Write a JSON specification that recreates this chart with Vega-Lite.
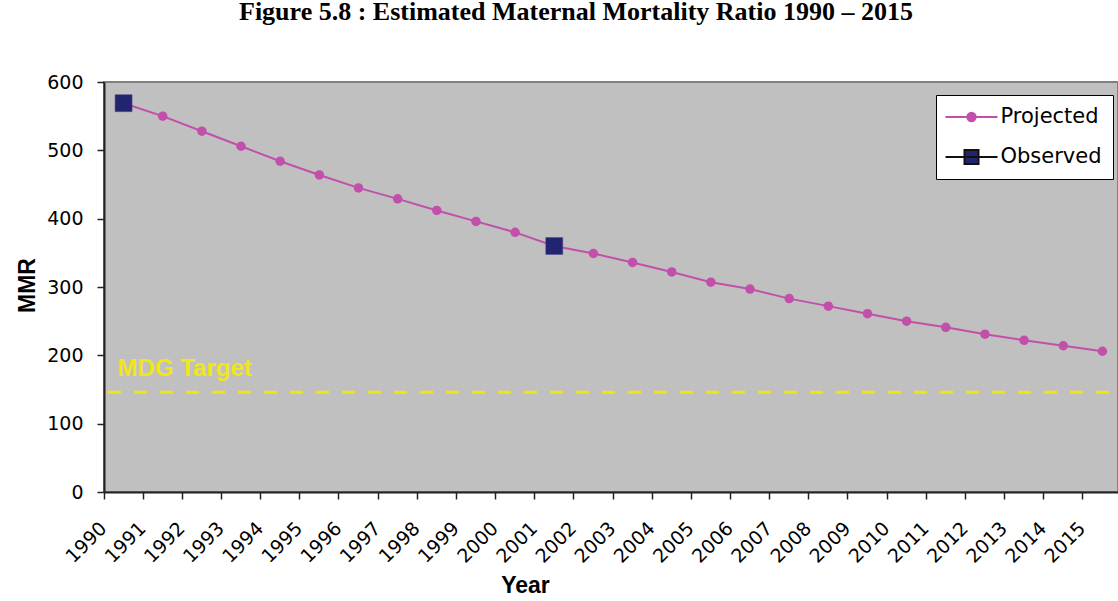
{
  "$schema": "https://vega.github.io/schema/vega-lite/v6.json",
  "width": 1014,
  "height": 410,
  "autosize": {"type": "none"},
  "padding": {"left": 104, "top": 82, "right": 0, "bottom": 109},
  "background": "white",
  "title": {
    "text": "Figure 5.8 : Estimated Maternal Mortality Ratio 1990 – 2015",
    "font": "Liberation Serif",
    "fontSize": 26,
    "fontWeight": "bold",
    "color": "black",
    "anchor": "middle",
    "frame": "group",
    "dx": -35,
    "dy": 31,
    "offset": 58,
    "baseline": "alphabetic"
  },
  "datasets": {
    "mmr": [
      {"year": "1990", "mmr": 569, "series": "Projected"},
      {"year": "1991", "mmr": 550, "series": "Projected"},
      {"year": "1992", "mmr": 528, "series": "Projected"},
      {"year": "1993", "mmr": 506, "series": "Projected"},
      {"year": "1994", "mmr": 484, "series": "Projected"},
      {"year": "1995", "mmr": 464, "series": "Projected"},
      {"year": "1996", "mmr": 445, "series": "Projected"},
      {"year": "1997", "mmr": 429, "series": "Projected"},
      {"year": "1998", "mmr": 412, "series": "Projected"},
      {"year": "1999", "mmr": 396, "series": "Projected"},
      {"year": "2000", "mmr": 380, "series": "Projected"},
      {"year": "2001", "mmr": 360, "series": "Projected"},
      {"year": "2002", "mmr": 349, "series": "Projected"},
      {"year": "2003", "mmr": 336, "series": "Projected"},
      {"year": "2004", "mmr": 322, "series": "Projected"},
      {"year": "2005", "mmr": 307, "series": "Projected"},
      {"year": "2006", "mmr": 297, "series": "Projected"},
      {"year": "2007", "mmr": 283, "series": "Projected"},
      {"year": "2008", "mmr": 272, "series": "Projected"},
      {"year": "2009", "mmr": 261, "series": "Projected"},
      {"year": "2010", "mmr": 250, "series": "Projected"},
      {"year": "2011", "mmr": 241, "series": "Projected"},
      {"year": "2012", "mmr": 231, "series": "Projected"},
      {"year": "2013", "mmr": 222, "series": "Projected"},
      {"year": "2014", "mmr": 214, "series": "Projected"},
      {"year": "2015", "mmr": 206, "series": "Projected"},
      {"year": "1990", "mmr": 569, "series": "Observed"},
      {"year": "2001", "mmr": 360, "series": "Observed"}
    ],
    "target": [
      {"year": "1990", "target": 146, "label": "MDG Target"}
    ]
  },
  "encoding": {
    "x": {
      "field": "year",
      "type": "ordinal",
      "scale": {"type": "band", "paddingInner": 0, "paddingOuter": 0, "range": [0, 1018]},
      "axis": {
        "title": "Year",
        "titleFont": "Liberation Sans",
        "titleFontSize": 23,
        "titleFontWeight": "bold",
        "titleColor": "black",
        "titleX": 421,
        "titleY": 100,
        "titleAlign": "center",
        "titleBaseline": "alphabetic",
        "labelAngle": -45,
        "labelAlign": "right",
        "labelBaseline": "middle",
        "labelOverlap": false,
        "labelBound": false,
        "bandPosition": 0,
        "labelOffset": -20,
        "labelPadding": 26,
        "tickSize": 7,
        "tickWidth": 1.5,
        "domainWidth": 2
      }
    },
    "y": {
      "type": "quantitative",
      "scale": {"domain": [0, 600], "nice": false, "zero": true},
      "axis": {
        "title": "MMR",
        "titleFont": "Liberation Sans",
        "titleFontSize": 23,
        "titleFontWeight": "bold",
        "titleColor": "black",
        "titleX": -77,
        "titleY": 203,
        "titleAngle": -90,
        "titleAlign": "center",
        "titleBaseline": "middle",
        "values": [0, 100, 200, 300, 400, 500, 600],
        "tickSize": 7,
        "tickWidth": 1.5,
        "labelPadding": 14,
        "domainWidth": 2
      }
    }
  },
  "layer": [
    {
      "data": {"name": "target"},
      "mark": {"type": "rule", "color": "#ece41c", "strokeWidth": 3, "strokeDash": [13, 13], "strokeDashOffset": 17},
      "encoding": {
        "x": null,
        "y": {"field": "target", "type": "quantitative"}
      }
    },
    {
      "data": {"name": "target"},
      "mark": {"type": "text", "align": "left", "baseline": "alphabetic", "dx": -6, "dy": -16, "font": "Liberation Sans", "fontSize": 24, "fontWeight": "bold", "color": "#f0e61a"},
      "encoding": {
        "x": {"field": "year", "type": "ordinal"},
        "y": {"field": "target", "type": "quantitative"},
        "text": {"field": "label"}
      }
    },
    {
      "data": {"name": "mmr"},
      "transform": [{"filter": "datum.series === 'Projected'"}],
      "mark": {"type": "line", "color": "#c250aa", "strokeWidth": 2},
      "encoding": {
        "y": {"field": "mmr", "type": "quantitative"}
      }
    },
    {
      "data": {"name": "mmr"},
      "transform": [{"filter": "datum.series === 'Projected'"}],
      "mark": {"type": "point", "shape": "circle", "filled": true, "opacity": 1, "color": "#c250aa", "size": 90},
      "encoding": {
        "y": {"field": "mmr", "type": "quantitative"}
      }
    },
    {
      "data": {"name": "mmr"},
      "transform": [{"filter": "datum.series === 'Observed'"}],
      "mark": {"type": "point", "shape": "square", "filled": true, "opacity": 1, "color": "#23246f", "size": 289, "stroke": "#4a4a90", "strokeWidth": 0.5},
      "encoding": {
        "y": {"field": "mmr", "type": "quantitative"}
      }
    },
    {
      "data": {"name": "mmr"},
      "mark": {"type": "point", "filled": true, "opacity": 0},
      "encoding": {
        "y": {"field": "mmr", "type": "quantitative"},
        "fill": {
          "field": "series",
          "type": "nominal",
          "scale": {"domain": ["Projected", "Observed"], "range": ["#c250aa", "#23246f"]},
          "legend": {"title": null, "orient": "none", "legendX": 832, "legendY": 13}
        },
        "stroke": {
          "field": "series",
          "type": "nominal",
          "scale": {"domain": ["Projected", "Observed"], "range": ["#c250aa", "#111111"]},
          "legend": {"title": null, "orient": "none", "legendX": 832, "legendY": 13}
        },
        "shape": {
          "field": "series",
          "type": "nominal",
          "scale": {"domain": ["Projected", "Observed"], "range": ["M-2.6,0H2.6M-0.42,0A0.42,0.42,0,1,1,0.42,0A0.42,0.42,0,1,1,-0.42,0Z", "M-2.6,0H2.6M-0.7,-0.7H0.7V0.7H-0.7Z"]},
          "legend": {"title": null, "orient": "none", "legendX": 832, "legendY": 13}
        }
      }
    }
  ],
  "config": {
    "view": {"fill": "#c0c0c0", "stroke": "#808080", "strokeWidth": 2},
    "legend": {
      "fillColor": "white",
      "strokeColor": "black",
      "padding": 11,
      "symbolSize": 400,
      "symbolStrokeWidth": 2,
      "symbolOpacity": 1,
      "symbolOffset": 13.5,
      "labelOffset": 18,
      "rowPadding": 19,
      "labelFont": "DejaVu Sans",
      "labelFontSize": 21,
      "labelColor": "black"
    },
    "axis": {
      "grid": false,
      "labelFont": "DejaVu Sans",
      "labelFontSize": 19,
      "labelColor": "black",
      "domainColor": "#222222",
      "tickColor": "#222222"
    }
  }
}
